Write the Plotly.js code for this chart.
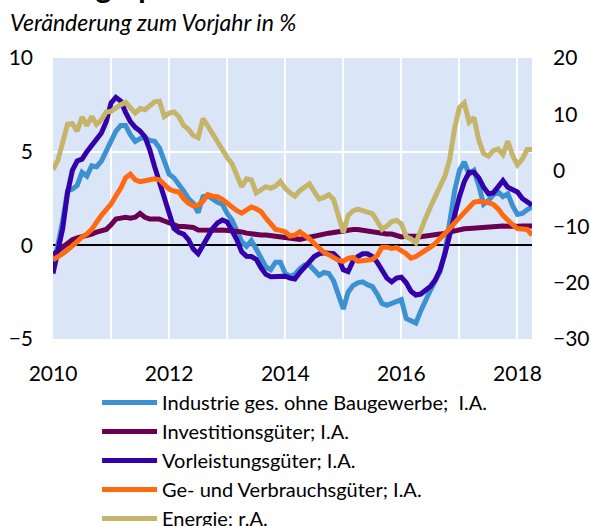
<!DOCTYPE html>
<html>
<head>
<meta charset="utf-8">
<script src="https://cdn.plot.ly/plotly-3.0.1.min.js"></script>
<style>
  html, body { margin: 0; padding: 0; background: #ffffff; }
  #chart { width: 590px; height: 526px; }
</style>
</head>
<body>
<div id="chart"></div>
<script>
// Monthly data, January 2010 to April 2018
const startYear = 2010;
const seriesNames = [
  "Industrie ges. ohne Baugewerbe;  I.A.",
  "Investitionsgüter; I.A.",
  "Vorleistungsgüter; I.A.",
  "Ge- und Verbrauchsgüter; I.A.",
  "Energie; r.A."
];

const industrie = [
  -1.0, 0.0, 1.3, 2.9, 3.0, 3.2, 3.9, 3.7, 4.25, 4.2, 4.5, 5.0,
  5.6, 6.1, 6.4, 6.4, 5.9, 5.55, 5.7, 5.75, 5.6, 5.55, 5.2, 4.5,
  3.8, 3.6, 3.3, 2.9, 2.5, 2.25, 1.75, 2.6, 2.65, 2.45, 2.3, 2.2,
  1.7, 1.35, 0.8, 0.2, -0.05, 0.25, -0.2, -0.7, -1.15, -1.3, -0.9, -0.9,
  -1.5, -1.65, -1.55, -1.25, -1.05, -1.05, -1.35, -1.6, -1.45, -1.5, -1.9, -2.7,
  -3.4, -2.5, -2.15, -2.0, -1.95, -2.1, -2.2, -2.6, -3.1, -3.2, -3.1, -3.0,
  -2.9, -3.9, -4.05, -4.15, -3.5, -2.9, -2.4, -1.9, -1.4, -0.4, 1.3, 2.9,
  4.0, 4.45, 3.8, 4.0, 3.2, 2.2, 2.4, 2.7, 2.85, 2.6, 2.75, 2.1,
  1.65, 1.7, 1.9, 2.05
];

const investition = [
  -0.5, -0.3, -0.1, 0.1, 0.3, 0.4, 0.45, 0.55, 0.6, 0.7, 0.75, 0.85,
  1.1, 1.4, 1.45, 1.5, 1.45, 1.5, 1.7, 1.5, 1.4, 1.42, 1.4, 1.3,
  1.2, 1.1, 1.0, 1.0, 1.0, 0.95, 0.82, 0.8, 0.78, 0.8, 0.8, 0.82,
  0.8, 0.8, 0.78, 0.72, 0.65, 0.6, 0.58, 0.55, 0.55, 0.52, 0.5, 0.45,
  0.4, 0.35, 0.32, 0.32, 0.38, 0.45, 0.5, 0.55, 0.6, 0.65, 0.7, 0.75,
  0.8, 0.82, 0.85, 0.85, 0.8, 0.75, 0.7, 0.65, 0.62, 0.6, 0.6, 0.5,
  0.45, 0.48, 0.5, 0.48, 0.46, 0.48, 0.5, 0.55, 0.6, 0.65, 0.72, 0.8,
  0.85, 0.88, 0.9, 0.92, 0.95, 0.98, 1.0, 1.03, 1.03, 1.03, 1.02, 1.0,
  1.02, 1.03, 1.03, 1.03
];

const vorleistung = [
  -1.5, -0.4, 0.9, 2.8, 4.0, 4.5, 4.6, 5.0, 5.3, 5.7, 6.0, 6.6,
  7.6, 7.9, 7.7, 7.1, 6.6, 6.3, 6.1, 5.8, 5.1, 4.2, 3.4, 2.6,
  1.6, 0.9, 0.7, 0.6, 0.3, -0.2, -0.45, 0.0, 0.5, 0.9, 1.2, 1.35,
  1.25, 0.8, 0.3, -0.35, -0.58, -0.6, -0.75, -1.2, -1.55, -1.68, -1.68, -1.65,
  -1.65, -1.75, -1.8, -1.45, -1.15, -0.9, -0.6, -0.45, -0.4, -0.42, -0.45, -0.7,
  -1.3, -1.4, -0.85, -0.6, -0.45, -0.45, -0.6, -0.9, -1.3, -1.75, -1.95, -1.75,
  -1.7, -2.0, -2.45, -2.65, -2.6, -2.4, -2.2, -1.85, -1.3, -0.45, 0.6, 1.7,
  2.6, 3.4, 3.9, 3.9, 3.6, 3.1, 2.75, 2.8, 3.1, 3.45, 3.1, 2.95,
  2.85, 2.5, 2.3, 2.15
];

const verbrauch = [
  -0.78, -0.65, -0.45, -0.25, -0.05, 0.2, 0.45, 0.6, 0.85, 1.25, 1.6, 1.9,
  2.2, 2.65, 3.05, 3.6, 3.8, 3.5, 3.4, 3.45, 3.5, 3.55, 3.5, 3.2,
  3.0, 2.9, 2.85, 2.5, 2.25, 2.1, 2.15, 2.35, 2.7, 2.62, 2.6, 2.45,
  2.25, 2.0, 1.85, 1.72, 1.9, 2.05, 1.95, 1.8, 1.45, 1.1, 0.85, 0.8,
  0.72, 0.5, 0.55, 0.72, 0.55, 0.35, 0.1, -0.15, -0.38, -0.5, -0.65, -0.8,
  -0.85, -0.7, -0.65, -0.85, -0.82, -0.78, -0.75, -0.55, -0.1, -0.1, -0.17, -0.12,
  -0.25, -0.45, -0.68, -0.6, -0.43, -0.3, -0.1, 0.1, 0.35, 0.6, 0.9, 1.2,
  1.5, 1.8, 2.1, 2.3, 2.35, 2.33, 2.28, 2.18, 1.95, 1.6, 1.3, 1.1,
  0.9, 0.88, 0.85, 0.55
];

const energie = [
  0.1, 1.8, 5.0, 8.2, 8.3, 7.0, 9.5, 8.0, 9.6, 8.2, 9.0, 10.4,
  10.5, 11.2, 11.7, 12.1, 11.0, 10.2, 11.0, 10.8, 11.5, 12.2, 12.3, 9.6,
  10.2, 10.4, 9.6, 8.0, 7.3, 6.2, 5.8, 9.2, 7.9, 6.5, 4.9, 3.9,
  2.3, 1.2, -1.0, -2.9, -1.5, -1.7, -4.0, -3.5, -2.9, -3.2, -2.8, -2.0,
  -3.2, -4.0, -4.6, -3.6, -3.0, -2.4, -3.8, -5.1, -4.8, -4.3, -5.2, -8.5,
  -11.0, -8.0, -7.2, -6.9, -7.1, -7.4, -7.7, -9.0, -10.5, -9.9, -9.1, -8.9,
  -9.5, -11.8, -12.2, -12.9, -10.5, -8.5, -6.5, -4.7, -2.5, -1.0, 2.0, 7.5,
  11.2, 12.0, 8.6, 9.4, 5.4, 3.0, 2.5, 3.5, 3.8, 2.8, 5.2, 2.6,
  1.0, 2.0, 3.7, 3.7
];

const xTickVals = [2010, 2011, 2012, 2013, 2014, 2015, 2016, 2017, 2018];
const xTickText = ["2010", "", "2012", "", "2014", "", "2016", "", "2018"];
const leftTicks = [-5, 0, 5, 10];
const rightTicks = [-30, -20, -10, 0, 10, 20];

// month positions (decimal years)
const months = industrie.map((_, i) => startYear + i / 12);

const colors = ["#3c91d0", "#6b0050", "#3300aa", "#ff6a10", "#c4b56a"];
const FONT = "Lato, 'Open Sans', sans-serif";

const seriesData = [industrie, investition, vorleistung, verbrauch, energie];
const traces = seriesData.map((vals, k) => ({
  type: "scatter",
  mode: "lines",
  x: months,
  y: vals,
  name: seriesNames[k],
  yaxis: k === 4 ? "y2" : "y",
  line: { color: colors[k], width: 5 },
  hoverinfo: "skip"
}));

const layout = {
  width: 590,
  height: 526,
  margin: { l: 53, r: 58, t: 58, b: 187, autoexpand: false },
  paper_bgcolor: "#ffffff",
  plot_bgcolor: "#dbe5f8",
  font: { family: FONT, size: 21, color: "#000000" },
  showlegend: true,
  legend: {
    x: 0.092, xanchor: "left",
    y: -0.157, yanchor: "top",
    orientation: "v",
    font: { family: FONT, size: 20, color: "#000000" },
    itemwidth: 55,
    bgcolor: "rgba(0,0,0,0)",
    traceorder: "normal"
  },
  xaxis: {
    range: [2010, 2018.25],
    tickvals: xTickVals,
    ticktext: xTickText,
    showgrid: true,
    gridcolor: "#ffffff",
    gridwidth: 2,
    zeroline: false,
    showline: false,
    ticks: "",
    ticklabelstandoff: 20,
    tickfont: { family: FONT, size: 21, color: "#000000" }
  },
  yaxis: {
    range: [-5, 10],
    tickvals: leftTicks,
    showgrid: true,
    gridcolor: "#ffffff",
    gridwidth: 2,
    zeroline: true,
    zerolinecolor: "#000000",
    zerolinewidth: 2,
    showline: false,
    ticks: "",
    ticklabelstandoff: 19,
    tickfont: { family: FONT, size: 21, color: "#000000" }
  },
  yaxis2: {
    range: [-30, 20],
    tickvals: rightTicks,
    overlaying: "y",
    side: "right",
    showgrid: false,
    zeroline: false,
    showline: false,
    ticks: "",
    ticklabelstandoff: 20,
    tickfont: { family: FONT, size: 21, color: "#000000" }
  },
  annotations: [
    {
      text: "<b>Erzeugerpreise</b>",
      xref: "paper", yref: "paper",
      x: -0.071, y: 1.185,
      xanchor: "left", yanchor: "bottom",
      showarrow: false,
      font: { family: FONT, size: 30, color: "#000000" }
    },
    {
      text: "<i>Veränderung zum Vorjahr in %</i>",
      xref: "paper", yref: "paper",
      x: -0.094, y: 1.071,
      xanchor: "left", yanchor: "bottom",
      showarrow: false,
      font: { family: FONT, size: 23, color: "#000000" }
    }
  ]
};

Plotly.newPlot("chart", traces, layout, { displayModeBar: false, staticPlot: true });
</script>
</body>
</html>
